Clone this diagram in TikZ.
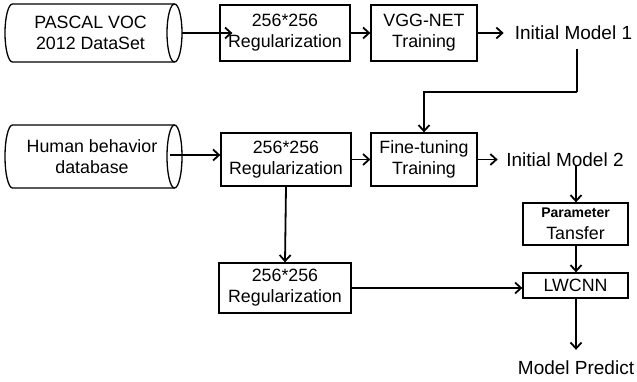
\documentclass[tikz,border=0pt]{standalone}
\usepackage{fontspec}
\setmainfont{Liberation Sans}
\usetikzlibrary{arrows.meta}
\begin{document}
\begin{tikzpicture}[x=1pt,y=1pt,
  box/.style={draw, line width=1.3pt, inner sep=0pt, align=center,
    font=\fontsize{17.8}{21}\selectfont},
  lbl/.style={inner sep=0pt, font=\fontsize{19}{22}\selectfont},
  arr/.style={line width=1.8pt,
    -{Straight Barb[length=6pt,width=11pt,line width=1.8pt]}},
  cyl/.style={line width=1.3pt},
]
\useasboundingbox (0,0) rectangle (637,-382);

% data set drums
\draw[cyl] (12.5,-4) arc[start angle=90,end angle=270,x radius=7.5,y radius=29]
  -- (174.5,-62) (12.5,-4) -- (174.5,-4);
\draw[cyl] (174.5,-33) ellipse[x radius=7.5,y radius=29];
\node[box, draw=none] (cyl1) at (90.5,-33) {PASCAL VOC\\2012 DataSet};
\coordinate (cyl1r) at (182,-33);

\draw[cyl] (12.5,-125) arc[start angle=90,end angle=270,x radius=7.5,y radius=31.5]
  -- (174.5,-188) (12.5,-125) -- (174.5,-125);
\draw[cyl] (174.5,-156.5) ellipse[x radius=7.5,y radius=31.5];
\node[box, draw=none] (cyl2) at (92,-156.5) {Human behavior\\database};
\coordinate (cyl2c) at (170,-155);

% processing boxes
\node[box, minimum width=130, minimum height=56] (box1) at (285,-33) {256*256\\Regularization};
\node[box, minimum width=106, minimum height=56] (vgg) at (424,-33) {VGG-NET\\Training};
\node[lbl] (im1) at (573.5,-33) {Initial Model 1};

\node[box, minimum width=130, minimum height=53] (box2) at (286,-159.5) {256*256\\Regularization};
\node[box, minimum width=106, minimum height=53] (fine) at (424,-159.5) {Fine-tuning\\Training};
\node[lbl] (im2) at (565,-160) {Initial Model 2};

\node[box, minimum width=105, minimum height=42] (param) at (575.5,-224)
  {{\fontsize{14}{16}\selectfont\bfseries Parameter}\\[1pt]Tansfer};
\node[box, minimum width=105, minimum height=25] (lwcnn) at (575.5,-285.5) {LWCNN};
\node[box, minimum width=132, minimum height=50] (box3) at (285,-288) {256*256\\Regularization};
\node[lbl] (pred) at (576,-368) {Model Predict};

% connectors
\coordinate (im1foot) at (577,-49);
\coordinate (im2foot) at (576,-165);

\draw[arr, shorten >=-13pt] (cyl1r) -- (box1.west);
\draw[arr] (box1) -- (vgg);
\draw[arr] (vgg.east) -- ++(26,0);
\draw[line width=1.8pt] (im1foot) -- ++(0,-43) coordinate (bend);
\draw[arr] (bend) -| (fine.north);

\draw[arr] (cyl2c) -- (cyl2c -| box2.west);
\draw[arr] (box2) -- (fine);
\draw[arr] (fine.east) -- ++(20,0);
\draw[arr] (im2foot) -- (im2foot |- param.north);
\draw[arr] (param.south -| im2foot) -- (lwcnn.north -| im2foot);

\draw[arr] (box2.south) -- (box3.north);
\draw[arr] (box3.east) -- (box3.east -| lwcnn.west);
\draw[arr, shorten >=11pt] (lwcnn.south -| im2foot) -- (pred.north -| im2foot);
\end{tikzpicture}
\end{document}
